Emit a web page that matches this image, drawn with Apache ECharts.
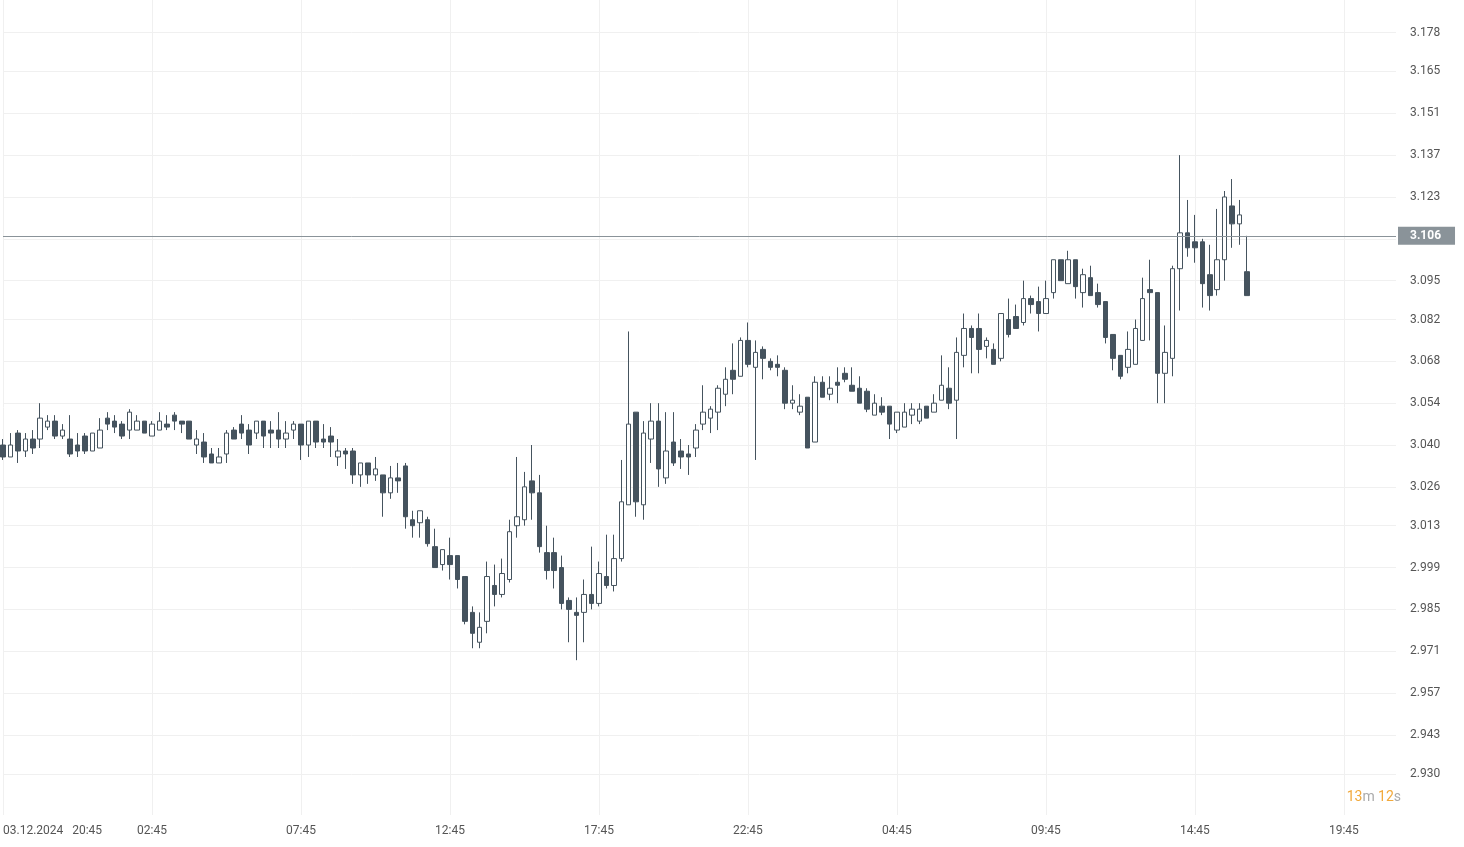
<!DOCTYPE html>
<html><head><meta charset="utf-8">
<script src="https://cdn.jsdelivr.net/npm/echarts@6/dist/echarts.min.js"></script>
<style>html,body{margin:0;padding:0;background:#fff}#c{width:1464px;height:847px}</style>
</head><body><div id="c"></div>
<script>
// [open, close, low, high]
const candles = [
[3.040,3.036,3.035,3.042],[3.036,3.040,3.036,3.044],[3.044,3.038,3.034,3.045],[3.038,3.042,3.036,3.044],[3.042,3.039,3.037,3.045],
[3.042,3.049,3.039,3.054],[3.046,3.048,3.045,3.050],[3.048,3.043,3.042,3.050],[3.043,3.045,3.042,3.047],[3.042,3.037,3.036,3.050],
[3.040,3.038,3.036,3.044],[3.043,3.038,3.037,3.044],[3.038,3.044,3.038,3.044],[3.039,3.045,3.039,3.049],[3.049,3.047,3.045,3.051],
[3.048,3.046,3.044,3.050],[3.047,3.043,3.042,3.048],[3.045,3.051,3.042,3.052],[3.045,3.048,3.045,3.050],[3.048,3.044,3.044,3.048],
[3.043,3.047,3.043,3.048],[3.045,3.048,3.045,3.051],[3.047,3.046,3.045,3.050],[3.050,3.048,3.045,3.051],[3.048,3.047,3.044,3.048],
[3.048,3.042,3.042,3.048],[3.040,3.042,3.037,3.045],[3.041,3.036,3.034,3.044],[3.037,3.034,3.034,3.039],[3.034,3.036,3.034,3.039],
[3.037,3.044,3.034,3.045],[3.045,3.042,3.042,3.046],[3.047,3.044,3.042,3.050],[3.045,3.040,3.037,3.047],[3.044,3.048,3.042,3.048],
[3.048,3.043,3.039,3.048],[3.045,3.044,3.039,3.048],[3.045,3.042,3.039,3.051],[3.042,3.044,3.039,3.048],[3.045,3.047,3.042,3.048],
[3.047,3.040,3.035,3.047],[3.040,3.048,3.036,3.048],[3.048,3.041,3.039,3.048],[3.042,3.041,3.039,3.047],[3.043,3.041,3.036,3.046],
[3.036,3.038,3.033,3.042],[3.038,3.037,3.032,3.039],[3.038,3.030,3.027,3.039],[3.030,3.034,3.026,3.034],[3.034,3.030,3.027,3.034],
[3.030,3.032,3.028,3.036],[3.030,3.024,3.016,3.030],[3.024,3.029,3.022,3.033],[3.029,3.028,3.024,3.034],[3.033,3.016,3.012,3.034],
[3.015,3.013,3.009,3.018],[3.014,3.018,3.009,3.018],[3.015,3.007,3.006,3.016],[3.006,2.999,2.999,3.012],[3.000,3.005,2.998,3.005],
[3.003,3.000,2.995,3.009],[3.003,2.995,2.992,3.003],[2.996,2.981,2.980,2.996],[2.984,2.977,2.972,2.986],[2.974,2.979,2.972,2.984],
[2.981,2.996,2.977,3.001],[2.993,2.990,2.986,3.000],[2.990,2.997,2.989,3.002],[2.995,3.011,2.994,3.015],[3.013,3.016,3.009,3.036],
[3.015,3.026,3.013,3.031],[3.028,3.024,3.015,3.040],[3.024,3.006,3.004,3.030],[3.004,2.998,2.995,3.013],[3.004,2.998,2.992,3.009],
[2.999,2.987,2.985,3.003],[2.988,2.985,2.974,2.989],[2.984,2.983,2.968,2.989],[2.984,2.990,2.974,2.995],[2.990,2.987,2.985,3.006],
[2.987,2.997,2.986,3.001],[2.996,2.993,2.992,3.010],[2.993,3.002,2.991,3.010],[3.002,3.021,3.001,3.035],[3.020,3.047,3.020,3.078],
[3.051,3.021,3.016,3.051],[3.020,3.044,3.015,3.048],[3.042,3.048,3.034,3.054],[3.048,3.032,3.026,3.054],[3.029,3.038,3.027,3.051],
[3.041,3.034,3.033,3.051],[3.038,3.036,3.032,3.042],[3.037,3.036,3.030,3.040],[3.039,3.045,3.036,3.047],[3.047,3.051,3.045,3.060],
[3.049,3.052,3.044,3.053],[3.051,3.059,3.045,3.060],[3.057,3.062,3.053,3.066],[3.065,3.062,3.057,3.074],[3.063,3.075,3.063,3.076],
[3.075,3.067,3.066,3.081],[3.066,3.071,3.035,3.075],[3.072,3.069,3.062,3.073],[3.068,3.066,3.065,3.069],[3.067,3.066,3.063,3.070],
[3.065,3.054,3.052,3.066],[3.054,3.055,3.052,3.060],[3.051,3.053,3.050,3.057],[3.056,3.039,3.039,3.056],[3.041,3.061,3.041,3.063],
[3.061,3.056,3.056,3.063],[3.057,3.059,3.055,3.063],[3.061,3.060,3.054,3.066],[3.064,3.062,3.061,3.066],[3.060,3.058,3.058,3.066],
[3.059,3.054,3.054,3.063],[3.058,3.052,3.051,3.059],[3.050,3.054,3.050,3.057],[3.053,3.051,3.050,3.056],[3.053,3.047,3.042,3.053],
[3.045,3.051,3.044,3.051],[3.046,3.051,3.046,3.054],[3.050,3.052,3.047,3.054],[3.048,3.052,3.047,3.054],[3.053,3.049,3.049,3.053],
[3.051,3.054,3.051,3.057],[3.055,3.060,3.055,3.070],[3.059,3.054,3.052,3.066],[3.055,3.071,3.042,3.076],[3.070,3.079,3.066,3.084],
[3.079,3.076,3.064,3.080],[3.079,3.072,3.064,3.084],[3.073,3.075,3.069,3.076],[3.072,3.067,3.067,3.074],[3.069,3.084,3.068,3.084],
[3.082,3.077,3.076,3.089],[3.083,3.079,3.079,3.087],[3.081,3.089,3.080,3.095],[3.089,3.087,3.084,3.090],[3.088,3.084,3.078,3.093],
[3.084,3.089,3.084,3.095],[3.091,3.102,3.089,3.102],[3.102,3.095,3.095,3.102],[3.094,3.102,3.094,3.105],[3.102,3.093,3.089,3.102],
[3.091,3.097,3.086,3.099],[3.096,3.090,3.090,3.100],[3.091,3.087,3.086,3.094],[3.088,3.076,3.074,3.088],[3.077,3.069,3.065,3.077],
[3.070,3.063,3.062,3.070],[3.066,3.072,3.064,3.078],[3.067,3.079,3.067,3.082],[3.075,3.089,3.075,3.096],[3.092,3.091,3.075,3.102],
[3.091,3.064,3.054,3.091],[3.064,3.071,3.054,3.080],[3.069,3.099,3.063,3.100],[3.099,3.111,3.085,3.137],[3.111,3.106,3.103,3.122],
[3.108,3.106,3.101,3.117],[3.108,3.094,3.086,3.109],[3.097,3.090,3.085,3.107],[3.092,3.102,3.090,3.119],[3.102,3.123,3.095,3.125],
[3.120,3.114,3.106,3.129],[3.114,3.117,3.107,3.122],[3.098,3.090,3.090,3.110]
];
const totalSlots = 188;
const xTickLabels = {0:'03.12.2024   20:45',20:'02:45',40:'07:45',60:'12:45',80:'17:45',100:'22:45',120:'04:45',140:'09:45',160:'14:45',180:'19:45'};
const yTickLabels = [2.916,2.930,2.943,2.957,2.971,2.985,2.999,3.013,3.026,3.040,3.054,3.068,3.082,3.095,3.109,3.123,3.137,3.151,3.165,3.178];
const currentPrice = 3.106;

const cats = [];
for (let i = 0; i < totalSlots; i++) cats.push(String(i));
const dark = '#45535e';
const chart = echarts.init(document.getElementById('c'));
chart.setOption({
  animation: false,
  grid: {left: 3, right: 68, top: 0, bottom: 32},
  xAxis: {
    type: 'category', data: cats, boundaryGap: false,
    axisLine: {show: false}, axisTick: {show: false},
    axisLabel: {
      interval: (i) => xTickLabels[i] !== undefined,
      formatter: (v) => xTickLabels[+v] || '',
      color: '#555', fontSize: 12, fontFamily: 'Roboto', margin: 10,
      align: 'center',
      alignMinLabel: 'left'
    },
    splitLine: {show: true, interval: (i) => i % 20 === 0, lineStyle: {color: '#f0f0f0'}}
  },
  yAxis: {
    type: 'value', position: 'right', scale: true,
    min: 2.9162, max: 2.9162 + 815 / 2988.5,
    axisLine: {show: false}, axisTick: {show: false, customValues: yTickLabels},
    axisLabel: {customValues: yTickLabels, formatter: (v) => v.toFixed(3), color: '#555', fontSize: 12, fontFamily: 'Roboto', margin: 14, align: 'left'},
    splitLine: {show: true, lineStyle: {color: '#f0f0f0'}}
  },
  series: [{
    type: 'candlestick', data: candles, barWidth: 5,
    itemStyle: {color: '#ffffff', color0: dark, borderColor: dark, borderColor0: dark, borderWidth: 1},
    markLine: {
      symbol: 'none', silent: true,
      lineStyle: {color: '#8a9399', width: 1, type: 'solid'},
      label: {position: 'end', formatter: currentPrice.toFixed(3), color: '#fff', backgroundColor: '#8a9399', padding: [3, 14, 3, 12], fontSize: 12, fontWeight: 'bold', fontFamily: 'Roboto', distance: 2},
      data: [{yAxis: currentPrice}]
    }
  }],
  graphic: [{
    type: 'text', right: 63, top: 790,
    style: {text: '{o|13}{g|m} {o|12}{g|s}', rich: {o: {fill: '#f2a93b', fontSize: 14, fontFamily: 'Roboto'}, g: {fill: '#aaa', fontSize: 14, fontFamily: 'Roboto'}}}
  }]
});
</script></body></html>
